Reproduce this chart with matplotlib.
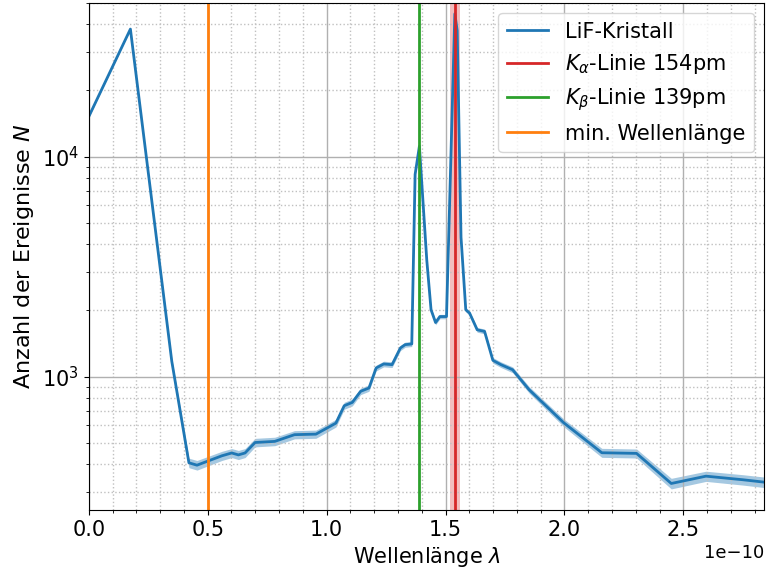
import matplotlib
matplotlib.use('Agg')
import matplotlib.pyplot as plt
from matplotlib.ticker import AutoMinorLocator
import numpy as np

# Messwerte LiF-Kristall (Wellenlänge in 1e-10 m, Zählrate N)
wellenlaenge = [0.0, 0.175, 0.349, 0.421, 0.455, 0.497, 0.56, 0.601, 0.629, 0.657,
                0.699, 0.782, 0.865, 0.955, 1.039, 1.074, 1.108, 1.143, 1.178, 1.208,
                1.240, 1.275, 1.310, 1.330, 1.358, 1.372, 1.39, 1.421, 1.439, 1.458,
                1.476, 1.504, 1.539, 1.549, 1.565, 1.585, 1.601, 1.633, 1.664, 1.699,
                1.733, 1.782, 1.851, 1.997, 2.157, 2.303, 2.449, 2.595, 2.75, 2.9]
anzahl = [15200, 38000, 1174, 406, 396, 412, 437, 450, 441, 450,
          502, 508, 545, 548, 615, 738, 764, 858, 888, 1095,
          1142, 1134, 1350, 1398, 1408, 8300, 11150, 3390, 2014, 1762,
          1876, 1876, 44600, 37400, 4300, 2014, 1945, 1633, 1606, 1186,
          1134, 1075, 873, 617, 451, 448, 327, 353, 340, 326]

k_alpha = 1.54e-10
k_alpha_breite = 0.02e-10
k_beta = 1.39e-10
lambda_min = 0.5e-10

x = np.array(wellenlaenge) * 1e-10
N = np.array(anzahl, dtype=float)
dN = np.sqrt(N)

plt.rcParams['font.size'] = 13
fig, ax = plt.subplots(figsize=(7.72, 5.71), dpi=100)
fig.subplots_adjust(left=0.115, right=0.99, top=0.995, bottom=0.107)

#Messkurve mit Fehlerband
ax.fill_between(x, N - dN, N + dN, color='tab:blue', alpha=0.4, linewidth=0)
ax.plot(x, N, color='tab:blue', linewidth=2, label='LiF-Kristall')

#Literaturwerte
ax.axvspan(k_alpha - k_alpha_breite, k_alpha + k_alpha_breite, color='tab:red', alpha=0.3, linewidth=0)
ax.axvline(k_alpha, color='tab:red', linewidth=2, label=r'$K_\alpha$-Linie 154pm')
ax.axvline(k_beta, color='tab:green', linewidth=2, label=r'$K_\beta$-Linie 139pm')
ax.axvline(lambda_min, color='tab:orange', linewidth=2, label='min. Wellenlänge')

ax.set_yscale('log')
ax.set_xlim(0, 2.84e-10)
ax.set_ylim(248, 50000)
ax.xaxis.set_minor_locator(AutoMinorLocator(5))

ax.grid(which='major', color='#b0b0b0', linewidth=1)
ax.grid(which='minor', color='#c0c0c0', linestyle=':', linewidth=1)

ax.set_xlabel(r'Wellenlänge $\lambda$', fontsize=15)
ax.set_ylabel(r'Anzahl der Ereignisse $N$', fontsize=16)
plt.xticks(fontsize=15)
plt.yticks(fontsize=15)
ax.legend(loc='upper right', fontsize=15)

plt.savefig('out.png')
